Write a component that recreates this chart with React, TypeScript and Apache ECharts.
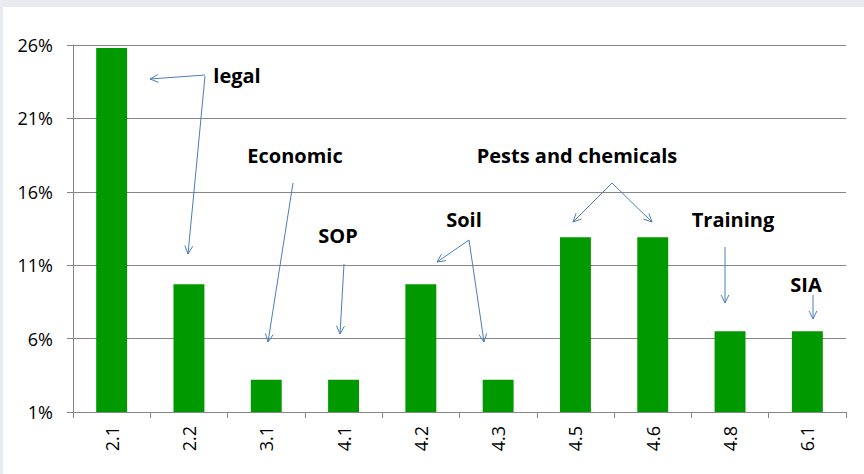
import React, { useEffect, useRef } from "react";
import * as echarts from "echarts";

const categories = ["2.1", "2.2", "3.1", "4.1", "4.2", "4.3", "4.5", "4.6", "4.8", "6.1"];
const shares = [25.8, 9.7, 3.2, 3.2, 9.7, 3.2, 12.9, 12.9, 6.5, 6.5];
const axisBase = 1; // the value axis starts at 1%
const axisTop = 26;
const axisStep = 5;

type Arrow = [number, number, number, number];
type Note = { text: string; x: number; y: number; arrows: Arrow[] };

const notes: Note[] = [
  { text: "legal", x: 237, y: 75, arrows: [[205, 75, 150, 79], [205, 76, 188, 254]] },
  { text: "Economic", x: 295, y: 155, arrows: [[293, 183, 268, 342]] },
  { text: "SOP", x: 338, y: 235, arrows: [[344, 264, 340, 334]] },
  { text: "Soil", x: 464, y: 219, arrows: [[469, 240, 437, 262], [469, 240, 484, 342]] },
  { text: "Pests and chemicals", x: 577, y: 155, arrows: [[612, 183, 573, 222], [612, 183, 652, 222]] },
  { text: "Training", x: 733, y: 219, arrows: [[725, 247, 725, 303]] },
  { text: "SIA", x: 806, y: 284, arrows: [[813, 295, 813, 319]] },
];

const arrowColor = "#4a7ebb";

function arrowGraphics(a: Arrow) {
  const [x1, y1, x2, y2] = a;
  const ang = Math.atan2(y2 - y1, x2 - x1);
  const len = 9;
  const spread = 0.45;
  const p1 = [x2 - len * Math.cos(ang - spread), y2 - len * Math.sin(ang - spread)];
  const p2 = [x2 - len * Math.cos(ang + spread), y2 - len * Math.sin(ang + spread)];
  return [
    { type: "line", shape: { x1, y1, x2, y2 }, style: { stroke: arrowColor, lineWidth: 1 }, z: 10 },
    { type: "polyline", shape: { points: [p1, [x2, y2], p2] }, style: { stroke: arrowColor, lineWidth: 1, fill: null }, z: 10 },
  ];
}

export default function App() {
  const ref = useRef<HTMLDivElement>(null);
  useEffect(() => {
    if (!ref.current) return;
    const chart = echarts.init(ref.current, null, { renderer: "svg" });
    const graphics: any[] = [
      { type: "rect", shape: { x: 0, y: 0, width: 864, height: 7 }, style: { fill: "#e8ecf0" }, z: -10, silent: true },
      { type: "rect", shape: { x: 0, y: 0, width: 3, height: 474 }, style: { fill: "#e8ecf0" }, z: -10, silent: true },
    ];
    notes.forEach((n) => {
      graphics.push({
        type: "text",
        x: n.x,
        y: n.y,
        z: 10,
        style: {
          text: n.text,
          fill: "#000",
          font: "bold 20px 'Open Sans'",
          align: "center",
          verticalAlign: "middle",
        },
      });
      n.arrows.forEach((a) => graphics.push(...arrowGraphics(a)));
    });
    chart.setOption({
      animation: false,
      backgroundColor: "#fff",
      grid: { left: 73, right: 18, top: 45, bottom: 62, containLabel: false },
      xAxis: {
        type: "category",
        data: categories,
        axisLine: { lineStyle: { color: "#868686", width: 1 } },
        axisTick: { show: true, length: 6, lineStyle: { color: "#868686" } },
        axisLabel: {
          rotate: 90,
          margin: 14,
          color: "#000",
          fontFamily: "Open Sans",
          fontSize: 18,
        },
      },
      yAxis: {
        type: "value",
        min: 0,
        max: axisTop - axisBase,
        interval: axisStep,
        axisLine: { show: true, lineStyle: { color: "#868686", width: 1 } },
        axisTick: { show: true, length: 6, lineStyle: { color: "#868686" } },
        splitLine: { show: true, lineStyle: { color: "#868686", width: 1 } },
        axisLabel: {
          margin: 20,
          color: "#000",
          fontFamily: "Open Sans",
          fontSize: 18,
          formatter: (v: number) => `${Math.round(v + axisBase)}%`,
        },
      },
      series: [
        {
          type: "bar",
          data: shares.map((s) => +(s - axisBase).toFixed(2)),
          barCategoryGap: "60%",
          itemStyle: { color: "#009900" },
        },
      ],
      graphic: graphics,
    });
    return () => chart.dispose();
  }, []);
  return (
    <div
      ref={ref}
      style={{ position: "fixed", left: 0, top: 0, width: 864, height: 474 }}
    />
  );
}
